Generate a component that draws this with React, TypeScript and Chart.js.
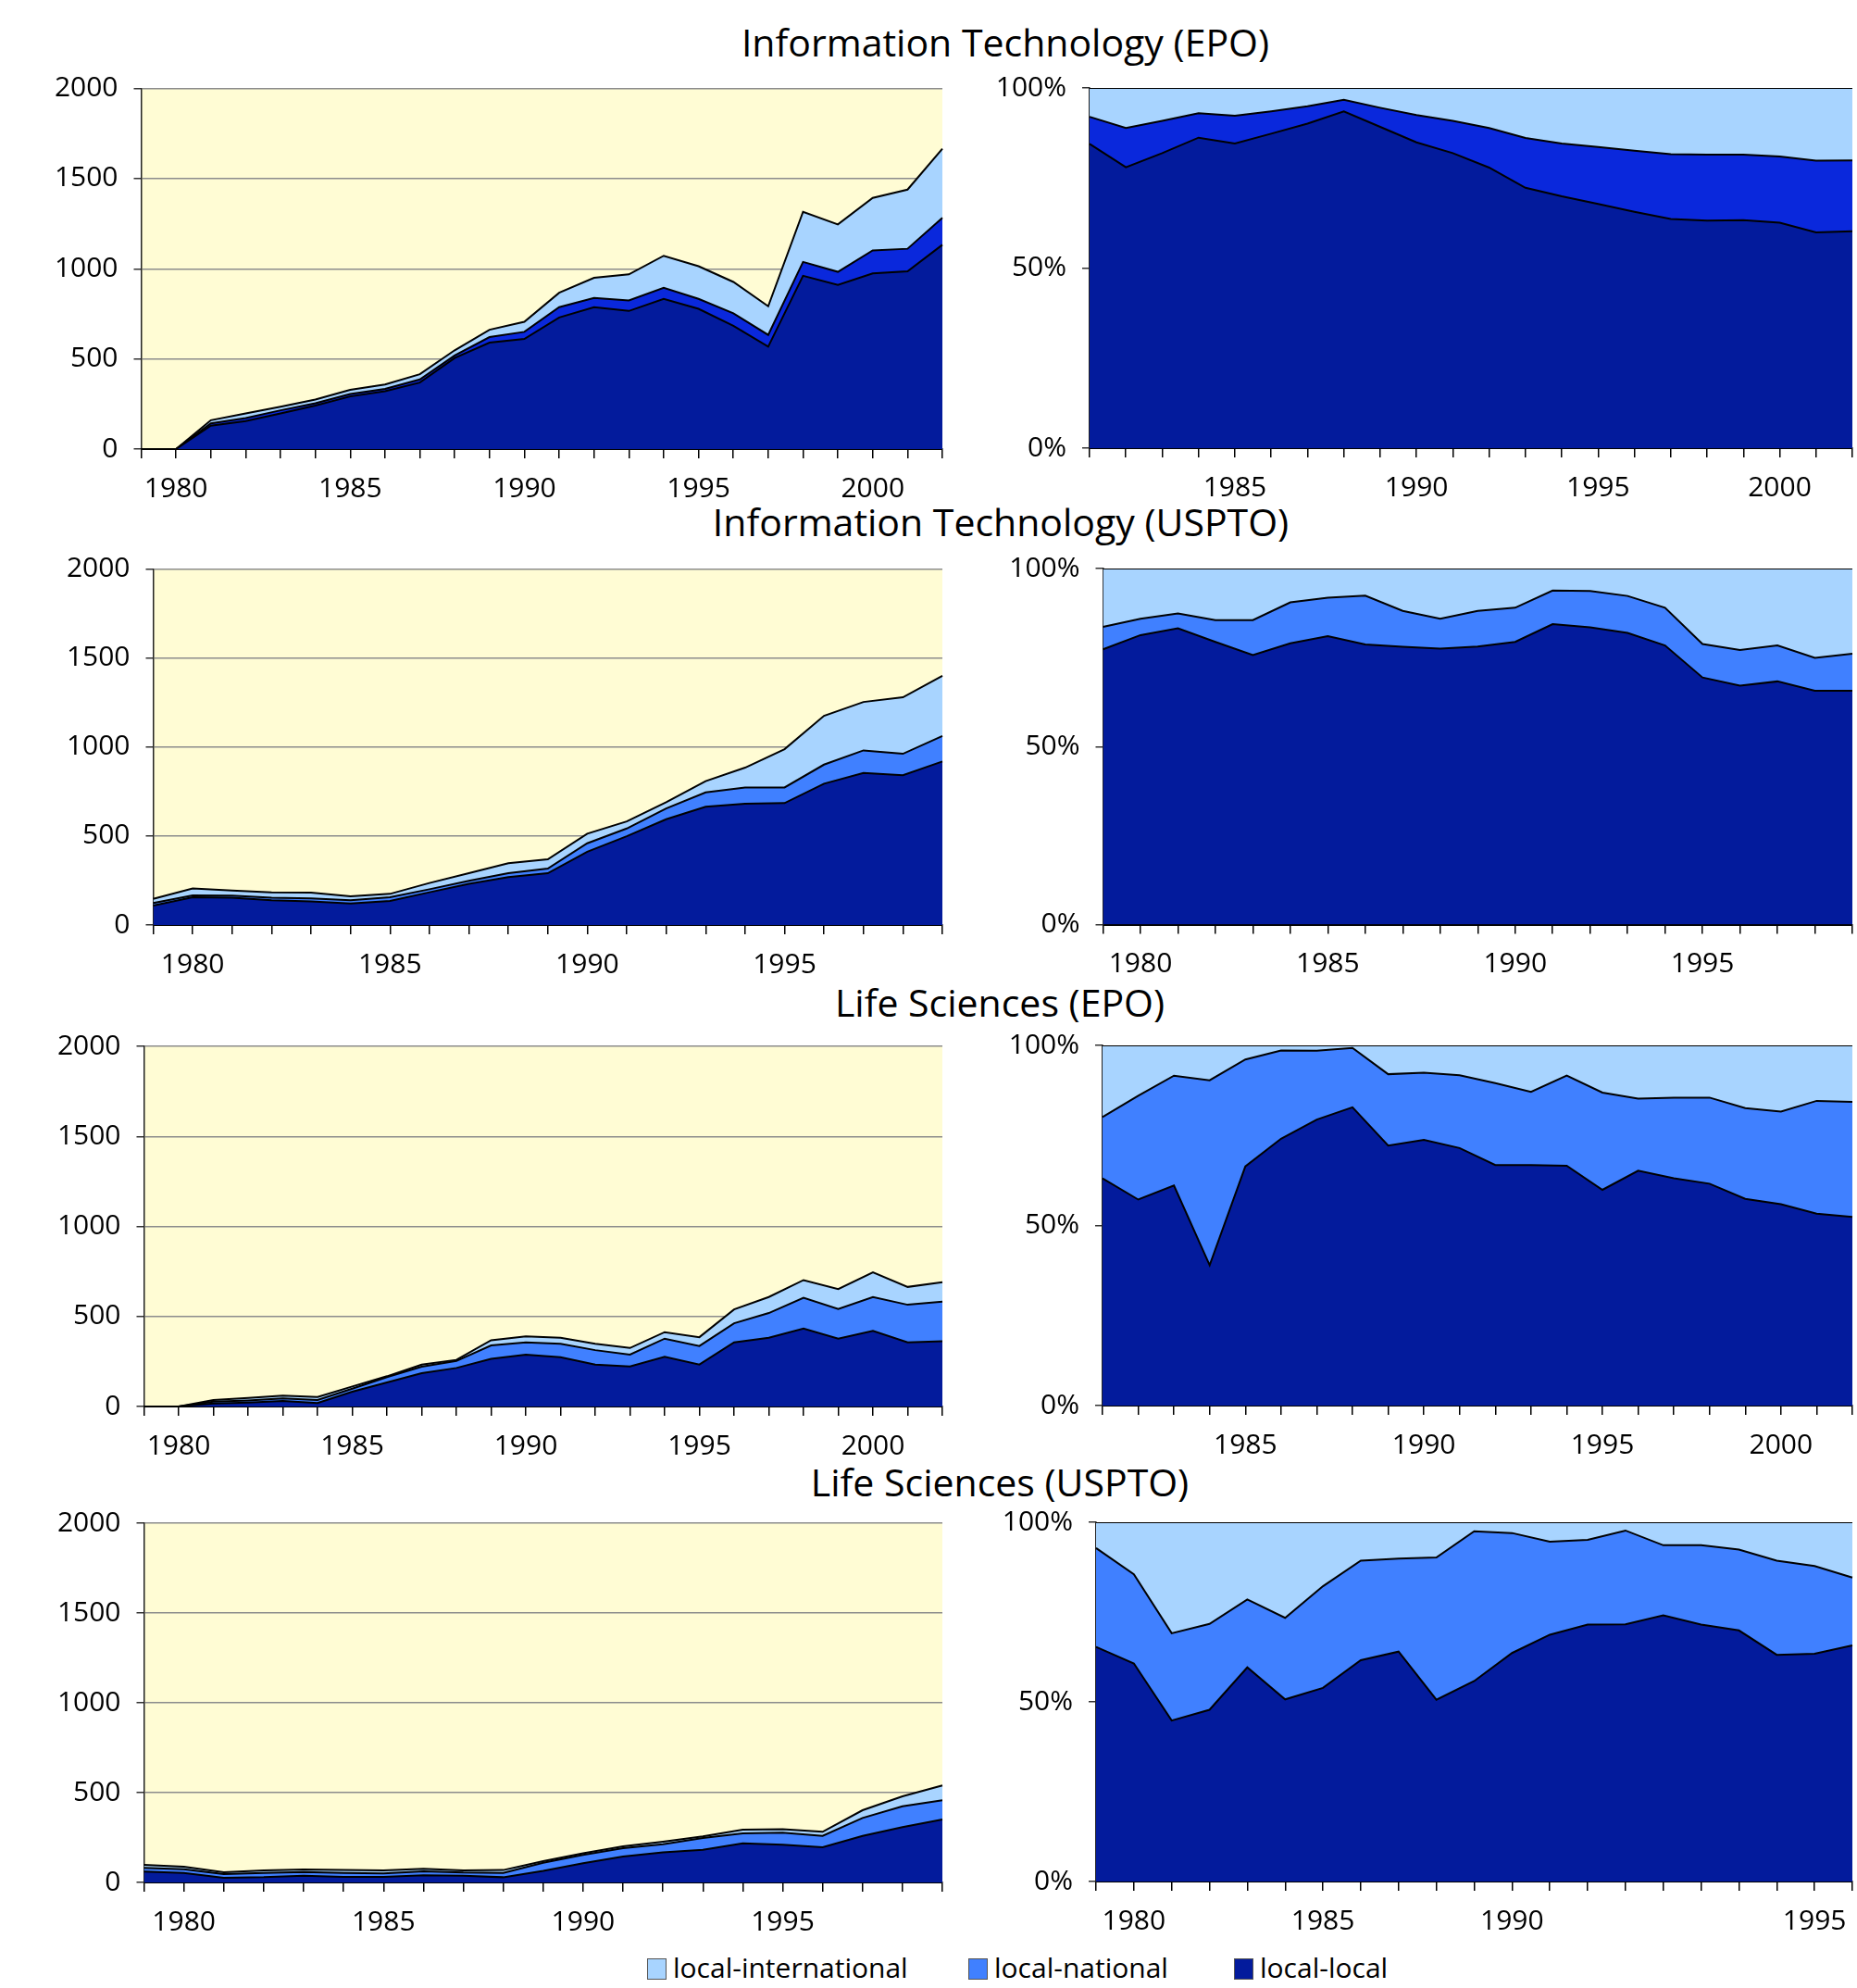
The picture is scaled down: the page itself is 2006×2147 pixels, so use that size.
import React, { useEffect, useRef } from 'react';
import { Chart, registerables } from 'chart.js';

Chart.register(...registerables);

const FONT = "'Open Sans', 'Noto Sans', sans-serif";

// ---------- categories ----------
const YEARS_1979_2002 = ['1979','1980','1981','1982','1983','1984','1985','1986','1987','1988','1989','1990','1991','1992','1993','1994','1995','1996','1997','1998','1999','2000','2001','2002'];
const YEARS_1981_2002 = ['1981','1982','1983','1984','1985','1986','1987','1988','1989','1990','1991','1992','1993','1994','1995','1996','1997','1998','1999','2000','2001','2002'];
const YEARS_1979_1999 = ['1979','1980','1981','1982','1983','1984','1985','1986','1987','1988','1989','1990','1991','1992','1993','1994','1995','1996','1997','1998','1999'];

// tick labels of the Life Sciences (USPTO) share panel, as printed in the original
const LS_USPTO_SHARE_TICKS = ['', '1980', '', '', '', '', '1985', '', '', '', '', '1990', '', '', '', '', '', '', '', '1995', ''];

const SERIES = ['local-local', 'local-national', 'local-international'];
const LEGEND_ORDER = ['local-international', 'local-national', 'local-local'];

// ---------- Information Technology (EPO) ----------
const IT_EPO_LL = [0, 0, 130, 155, 198, 241, 292, 321, 369, 505, 590, 611, 730, 787, 766, 833, 778, 684, 568, 961, 910, 974, 986, 1133];
const IT_EPO_LN = [0, 0, 13, 17, 17, 13, 13, 13, 17, 14, 31, 39, 57, 51, 58, 61, 55, 69, 65, 77, 73, 128, 125, 149];
const IT_EPO_LI = [0, 0, 17, 26, 20, 21, 24, 24, 29, 29, 41, 56, 80, 112, 145, 178, 181, 174, 159, 278, 263, 291, 328, 384];

const IT_EPO_LL_PCT = [84.5, 78.0, 81.9, 86.2, 84.6, 87.3, 90.1, 93.5, 89.2, 84.9, 81.9, 77.9, 72.3, 69.9, 67.8, 65.6, 63.6, 63.2, 63.3, 62.6, 59.9, 60.2];
const IT_EPO_LN_PCT = [7.5, 10.9, 9.0, 6.8, 7.7, 6.2, 4.8, 3.2, 5.3, 7.6, 9.0, 11.0, 13.8, 14.7, 15.8, 17.0, 18.0, 18.3, 18.2, 18.4, 19.9, 19.7];
const IT_EPO_LI_PCT = [8.0, 11.1, 9.1, 7.0, 7.7, 6.5, 5.1, 3.3, 5.5, 7.5, 9.1, 11.1, 13.9, 15.4, 16.4, 17.4, 18.4, 18.5, 18.5, 19.0, 20.2, 20.1];

// ---------- Information Technology (USPTO) ----------
const IT_US_LL = [109, 156, 153, 139, 132, 121, 135, 184, 231, 269, 291, 412, 499, 594, 664, 681, 685, 794, 854, 842, 919];
const IT_US_LN = [14, 10, 12, 14, 17, 18, 21, 17, 17, 22, 26, 47, 43, 61, 81, 92, 88, 107, 127, 120, 143];
const IT_US_LI = [24, 39, 29, 31, 33, 22, 19, 35, 43, 56, 52, 54, 40, 35, 63, 111, 215, 274, 272, 317, 338];

const IT_US_LL_PCT = [77.3, 81.3, 83.2, 79.4, 75.7, 79.0, 81.0, 78.7, 78.0, 77.5, 78.1, 79.4, 84.4, 83.5, 81.9, 78.4, 69.4, 67.1, 68.3, 65.7, 65.7];
const IT_US_LN_PCT = [6.3, 4.6, 4.2, 6.1, 9.8, 11.5, 10.8, 13.7, 10.1, 8.4, 10.0, 9.6, 9.4, 10.2, 10.4, 10.6, 9.4, 10.0, 10.1, 9.2, 10.4];
const IT_US_LI_PCT = [16.4, 14.1, 12.6, 14.5, 14.5, 9.5, 8.2, 7.6, 11.9, 14.1, 11.9, 11.0, 6.2, 6.3, 7.7, 11.0, 21.2, 22.9, 21.6, 25.1, 23.9];

// ---------- Life Sciences (EPO) ----------
const LS_EPO_LL = [0, 0, 17, 22, 31, 19, 82, 134, 185, 214, 265, 288, 274, 233, 223, 276, 233, 356, 382, 433, 377, 420, 356, 363];
const LS_EPO_LN = [0, 0, 10, 12, 14, 17, 17, 29, 36, 39, 74, 68, 74, 80, 65, 101, 103, 106, 137, 171, 164, 188, 209, 219];
const LS_EPO_LI = [0, 0, 9, 14, 15, 17, 12, 5, 12, 6, 29, 34, 34, 35, 37, 36, 49, 77, 89, 98, 111, 137, 99, 108];

const LS_EPO_LL_PCT = [63.1, 57.2, 61.1, 39.0, 66.4, 74.1, 79.4, 82.8, 72.2, 73.8, 71.5, 66.8, 66.8, 66.6, 59.9, 65.2, 63.1, 61.6, 57.4, 55.9, 53.3, 52.4];
const LS_EPO_LN_PCT = [17.0, 28.8, 30.5, 51.3, 29.7, 24.5, 19.1, 16.5, 19.8, 18.6, 20.2, 22.7, 20.3, 25.0, 27.0, 20.0, 22.4, 23.9, 25.2, 25.7, 31.3, 31.9];
const LS_EPO_LI_PCT = [19.9, 14.0, 8.4, 9.7, 3.9, 1.4, 1.5, 0.7, 8.0, 7.6, 8.3, 10.5, 12.9, 8.4, 13.1, 14.8, 14.5, 14.5, 17.4, 18.4, 15.4, 15.7];

// ---------- Life Sciences (USPTO) ----------
const LS_US_LL = [60, 53, 26, 29, 38, 31, 31, 40, 38, 29, 64, 107, 144, 167, 182, 218, 210, 196, 259, 308, 351];
const LS_US_LN = [21, 21, 20, 24, 20, 22, 19, 22, 17, 24, 46, 46, 47, 46, 65, 55, 67, 63, 100, 116, 106];
const LS_US_LI = [17, 14, 11, 14, 14, 17, 17, 14, 12, 16, 9, 9, 10, 14, 9, 21, 20, 23, 43, 55, 83];

const LS_US_LL_PCT = [65.3, 60.7, 44.8, 47.8, 59.6, 50.7, 53.9, 61.6, 64.0, 50.6, 55.8, 63.6, 68.7, 71.5, 71.6, 74.1, 71.5, 69.9, 63.1, 63.4, 65.7];
const LS_US_LN_PCT = [27.5, 24.8, 24.3, 23.9, 18.9, 22.7, 28.3, 27.7, 25.9, 39.6, 41.7, 33.4, 25.9, 23.6, 26.1, 19.5, 22.1, 22.5, 26.2, 24.4, 18.9];
const LS_US_LI_PCT = [7.2, 14.5, 30.9, 28.3, 21.5, 26.6, 17.8, 10.7, 10.1, 9.8, 2.5, 3.0, 5.4, 4.9, 2.3, 6.4, 6.4, 7.6, 10.7, 12.2, 15.4];

const TITLES = ['Information Technology (EPO)', 'Information Technology (USPTO)', 'Life Sciences (EPO)', 'Life Sciences (USPTO)'];

// ---------- styling ----------
const COLOR_LL = '#031B9C';
const COLOR_LN = '#4080FF';
const COLOR_LN_IT_EPO = '#0A28DC';
const COLOR_LI = '#A8D4FF';
const PLOT_BG = '#FFFCD4';
const LEGEND_COLORS: Record<string, string> = {
  'local-international': COLOR_LI,
  'local-national': COLOR_LN,
  'local-local': COLOR_LL,
};

type PanelCfg = {
  rect: { l: number; t: number; r: number; b: number };
  kind: 'abs' | 'pct';
  labels: string[];
  series: number[][];
  lnColor: string;
  tickLabels?: string[];
};

const PANELS: PanelCfg[] = [
  { rect: { l: 152.5, t: 95.5, r: 1018, b: 485 }, kind: 'abs', labels: YEARS_1979_2002, series: [IT_EPO_LL, IT_EPO_LN, IT_EPO_LI], lnColor: COLOR_LN_IT_EPO },
  { rect: { l: 1177, t: 95, r: 2001, b: 484 }, kind: 'pct', labels: YEARS_1981_2002, series: [IT_EPO_LL_PCT, IT_EPO_LN_PCT, IT_EPO_LI_PCT], lnColor: COLOR_LN_IT_EPO },
  { rect: { l: 165.5, t: 614.5, r: 1018, b: 999 }, kind: 'abs', labels: YEARS_1979_1999, series: [IT_US_LL, IT_US_LN, IT_US_LI], lnColor: COLOR_LN },
  { rect: { l: 1191.5, t: 614, r: 2001, b: 998.5 }, kind: 'pct', labels: YEARS_1979_1999, series: [IT_US_LL_PCT, IT_US_LN_PCT, IT_US_LI_PCT], lnColor: COLOR_LN },
  { rect: { l: 155.5, t: 1130, r: 1018, b: 1519 }, kind: 'abs', labels: YEARS_1979_2002, series: [LS_EPO_LL, LS_EPO_LN, LS_EPO_LI], lnColor: COLOR_LN },
  { rect: { l: 1191, t: 1129, r: 2001, b: 1518 }, kind: 'pct', labels: YEARS_1981_2002, series: [LS_EPO_LL_PCT, LS_EPO_LN_PCT, LS_EPO_LI_PCT], lnColor: COLOR_LN },
  { rect: { l: 155.5, t: 1645, r: 1018, b: 2033 }, kind: 'abs', labels: YEARS_1979_1999, series: [LS_US_LL, LS_US_LN, LS_US_LI], lnColor: COLOR_LN },
  { rect: { l: 1184, t: 1644, r: 2001, b: 2032 }, kind: 'pct', labels: YEARS_1979_1999, series: [LS_US_LL_PCT, LS_US_LN_PCT, LS_US_LI_PCT], lnColor: COLOR_LN, tickLabels: LS_USPTO_SHARE_TICKS },
];

const TITLE_BASELINES = [61.7, 579, 1098, 1616.5];
const TITLE_CENTERS = [1086, 1081, 1080, 1080];
const TITLE_SIZE = 41;

const bgPlugin = {
  id: 'plotBg',
  beforeDraw(chart: any, _args: any, opts: any) {
    if (!opts || !opts.color) return;
    const { ctx, chartArea: a } = chart;
    ctx.save();
    ctx.fillStyle = opts.color;
    ctx.fillRect(a.left, a.top, a.right - a.left, a.bottom - a.top);
    ctx.restore();
  },
};

const Y_AXIS_SPACE = 150;
const TOP_SPACE = 50;
const RIGHT_SPACE = 24;
const X_AXIS_SPACE = 70;
const X_TICK_PAD = 15;

function Panel({ cfg }: { cfg: PanelCfg }) {
  const ref = useRef<HTMLCanvasElement>(null);
  const { l, t, r, b } = cfg.rect;
  const cLeft = Math.floor(l - Y_AXIS_SPACE);
  const cTop = Math.floor(t - TOP_SPACE);
  const cRight = Math.ceil(r + RIGHT_SPACE);
  const cBottom = Math.ceil(b + X_AXIS_SPACE);
  const cW = cRight - cLeft;
  const cH = cBottom - cTop;
  const yAxisW = l - cLeft;
  const padTop = t - cTop;
  const padRight = cRight - r;
  const xAxisH = cBottom - b;

  useEffect(() => {
    const canvas = ref.current;
    if (!canvas) return;
    const isAbs = cfg.kind === 'abs';
    const colors = [COLOR_LL, cfg.lnColor, COLOR_LI];
    const ticks = cfg.tickLabels ?? cfg.labels.map((y) => (Number(y) % 5 === 0 ? y : ''));
    const chart = new Chart(canvas, {
      type: 'line',
      data: {
        labels: cfg.labels,
        datasets: cfg.series.map((d, i) => ({
          label: SERIES[i],
          data: d,
          backgroundColor: colors[i],
          borderColor: '#000',
          borderWidth: 2,
          pointRadius: 0,
          tension: 0,
          fill: i === 0 ? 'origin' : '-1',
        })),
      },
      options: {
        animation: false,
        responsive: false,
        events: [],
        layout: { padding: { top: padTop, right: padRight, left: 0, bottom: 0 } },
        plugins: {
          legend: { display: false },
          tooltip: { enabled: false },
          title: { display: false },
          plotBg: { color: isAbs ? PLOT_BG : null },
        } as any,
        scales: {
          x: {
            type: 'category',
            offset: false,
            afterFit: (s: any) => { s.height = xAxisH; },
            grid: { display: true, drawOnChartArea: false, drawTicks: true, tickLength: 10, color: '#000', lineWidth: 1.5, offset: false },
            border: { display: true, color: '#000', width: 2 },
            ticks: {
              autoSkip: false,
              maxRotation: 0,
              minRotation: 0,
              padding: X_TICK_PAD,
              color: '#000',
              font: { family: FONT, size: 30 },
              callback: (_v: any, i: number) => ticks[i],
            },
          },
          y: {
            stacked: true,
            min: 0,
            max: isAbs ? 2000 : 100,
            afterFit: (s: any) => { s.width = yAxisW; },
            grid: {
              display: true,
              drawOnChartArea: isAbs,
              drawTicks: true,
              tickLength: 8,
              color: '#8C8C8C',
              tickColor: '#333',
              lineWidth: 1.5,
            },
            border: { display: true, color: '#222', width: 1.5 },
            ticks: {
              stepSize: isAbs ? 500 : 50,
              padding: 17,
              color: '#000',
              font: { family: FONT, size: 30 },
              callback: (v: any) => (isAbs ? String(v) : v + '%'),
            },
          },
        },
      },
      plugins: [bgPlugin],
    } as any);
    return () => chart.destroy();
  }, []);

  return (
    <canvas
      ref={ref}
      width={cW}
      height={cH}
      style={{ position: 'absolute', left: cLeft, top: cTop, width: cW, height: cH }}
    />
  );
}

export default function App() {
  return (
    <div style={{ position: 'absolute', left: 0, top: 0, width: 2006, height: 2147, background: '#fff', overflow: 'hidden', fontFamily: FONT }}>
      {TITLES.map((title, i) => (
        <div
          key={title}
          style={{
            position: 'absolute',
            left: TITLE_CENTERS[i] - 600,
            width: 1200,
            top: TITLE_BASELINES[i] - 0.888 * TITLE_SIZE,
            fontSize: TITLE_SIZE,
            lineHeight: TITLE_SIZE + 'px',
            textAlign: 'center',
            color: '#000',
            whiteSpace: 'nowrap',
          }}
        >
          {title}
        </div>
      ))}
      {PANELS.map((p, i) => (
        <Panel key={i} cfg={p} />
      ))}
      {LEGEND_ORDER.map((name, i) => {
        const boxX = [699, 1046, 1333][i];
        return (
          <React.Fragment key={name}>
            <div
              style={{
                position: 'absolute',
                left: boxX,
                top: 2115,
                width: 19,
                height: 21,
                background: LEGEND_COLORS[name],
                border: '1px solid #555',
              }}
            />
            <div
              style={{
                position: 'absolute',
                left: boxX + 28,
                top: 2137 - 26.6,
                fontSize: 30,
                lineHeight: '30px',
                color: '#000',
                whiteSpace: 'nowrap',
              }}
            >
              {name}
            </div>
          </React.Fragment>
        );
      })}
    </div>
  );
}
